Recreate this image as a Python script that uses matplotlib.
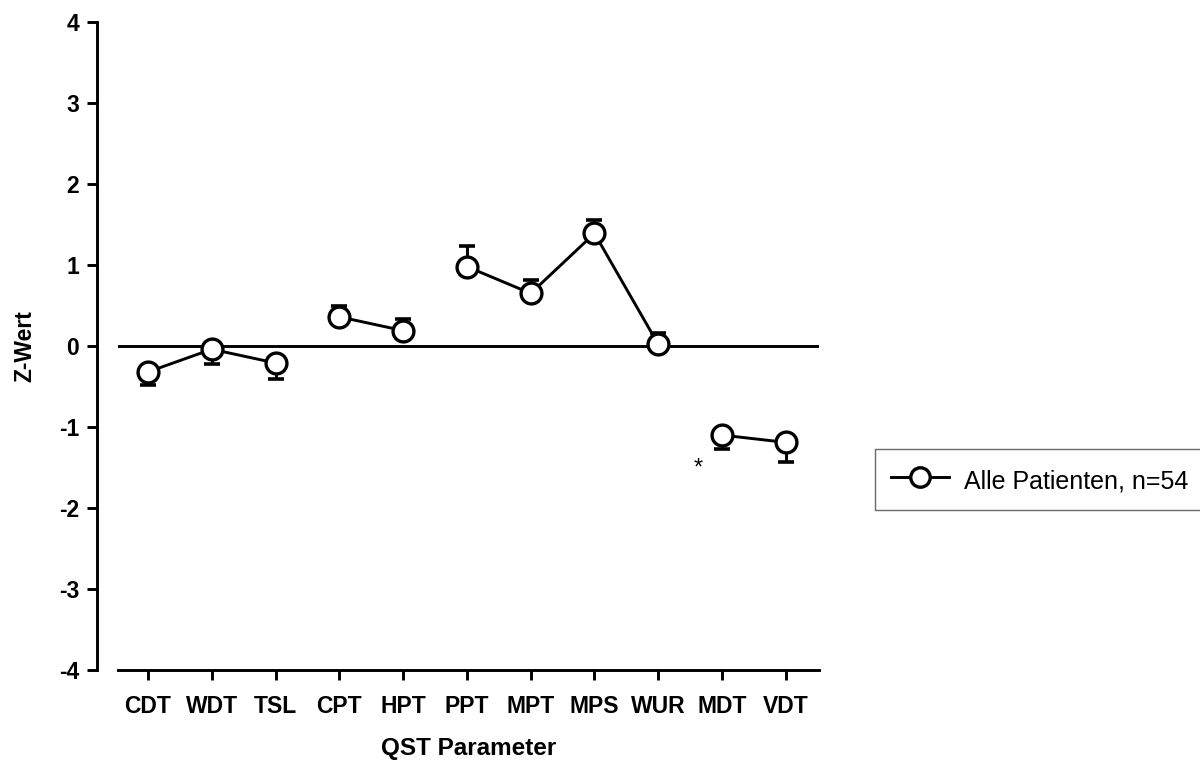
import numpy as np
import matplotlib.pyplot as plt

# Daten
parameter = ['CDT', 'WDT', 'TSL', 'CPT', 'HPT', 'PPT', 'MPT', 'MPS', 'WUR', 'MDT', 'VDT']
z_wert = [-0.32, -0.04, -0.21, 0.36, 0.19, 0.98, 0.65, 1.39, 0.02, -1.10, -1.19]
fehler = [0.16, 0.18, 0.20, 0.13, 0.14, 0.25, 0.16, 0.16, 0.14, 0.17, 0.24]
gruppe = [1, 1, 1, 2, 2, 3, 3, 3, 3, 4, 4]
stern_x, stern_y = 9.62, -1.44

plt.rcParams['font.family'] = ['Liberation Sans', 'DejaVu Sans']
plt.rcParams['axes.unicode_minus'] = False

fig = plt.figure(figsize=(12, 7.69), dpi=100)
ax = fig.add_axes([118 / 1200, 99 / 769, 701 / 1200, 648 / 769])

x = np.arange(1, len(parameter) + 1)
z = np.array(z_wert)
f = np.array(fehler)
g = np.array(gruppe)

lw = 2.1

# Null-Linie
ax.axhline(0, color='black', lw=lw, zorder=1)

# einseitige Fehlerbalken (vom Nullpunkt weg)
unten = np.where(z < 0, f, 0)
oben = np.where(z >= 0, f, 0)
ax.errorbar(x, z, yerr=[unten, oben], fmt='none', ecolor='black',
            elinewidth=lw, capsize=6, capthick=2.6, zorder=2)

# Linien je Gruppe
for k in np.unique(g):
    m = g == k
    line, = ax.plot(x[m], z[m], color='black', lw=lw, marker='o', ms=15,
                    mfc='white', mec='black', mew=2.4, zorder=3)
line.set_label('Alle Patienten, n=54')

# Signifikanz-Stern
ax.annotate('*', (stern_x, stern_y), xytext=(0, -4), textcoords='offset points',
            ha='center', va='center', fontsize=17)

ax.set_xlim(0.53, 11.52)
ax.set_ylim(-4, 4)
ax.set_xticks(x)
ax.set_xticklabels(parameter)
ax.set_yticks(range(-4, 5))

for s in ['top', 'right']:
    ax.spines[s].set_visible(False)
ax.spines['left'].set_position(('outward', 15))
ax.spines['left'].set_linewidth(lw)
ax.spines['bottom'].set_linewidth(lw)

ax.tick_params(axis='both', direction='out', length=7, width=lw,
               labelsize=16.5, pad=6)
ax.tick_params(axis='x', pad=11)
for lab in ax.get_xticklabels() + ax.get_yticklabels():
    lab.set_fontweight('bold')

ax.set_xlabel('QST Parameter', fontsize=17.5, fontweight='bold', labelpad=14)
ax.set_ylabel('Z-Wert', fontsize=16.5, fontweight='bold', labelpad=16)

leg = fig.legend(handles=[line], loc='lower left',
                 bbox_to_anchor=(875 / 1200, (769 - 510) / 769),
                 fontsize=18, handlelength=2.3, handletextpad=0.6,
                 handleheight=1.35, fancybox=False, borderpad=0.65,
                 borderaxespad=0)
leg.get_frame().set_edgecolor('#444444')
leg.get_frame().set_linewidth(1.0)
for h in leg.legend_handles:
    h.set_markersize(14)
    h.set_markeredgewidth(2.4)

fig.savefig('out.png', dpi=100)
